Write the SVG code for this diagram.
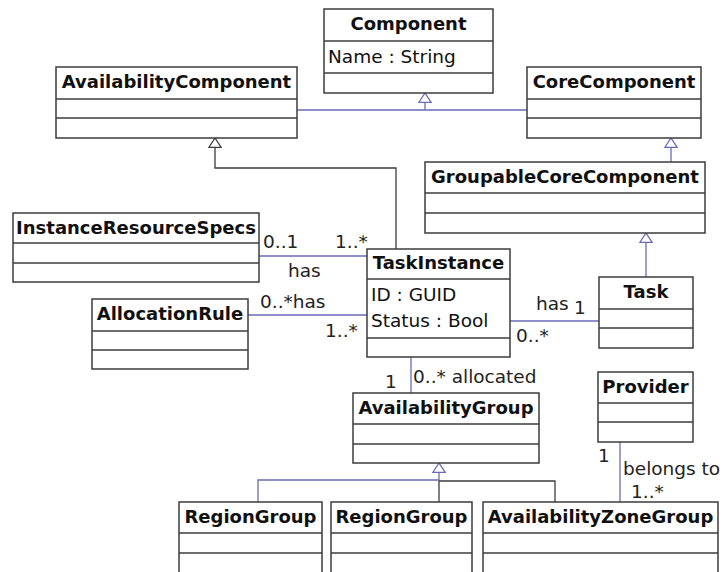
<svg xmlns="http://www.w3.org/2000/svg" width="723" height="572" viewBox="0 0 723 572">
  <style>
    .box { fill: #ffffff; stroke: #3c3c3c; stroke-width: 1.5; }
    .sep { stroke: #3c3c3c; stroke-width: 1.5; }
    .title { font-family: "DejaVu Sans", "Liberation Sans", sans-serif; font-size: 18px; font-weight: bold; fill: #111111; text-anchor: middle; }
    .attr { font-family: "DejaVu Sans", "Liberation Sans", sans-serif; font-size: 18.5px; fill: #111111; }
    .lbl { font-family: "DejaVu Sans", "Liberation Sans", sans-serif; font-size: 18.5px; fill: #222222; }
    .blue { fill: none; stroke: #6a6ab8; stroke-width: 1.3; }
    .dark { fill: none; stroke: #3c3c3c; stroke-width: 1.3; }
  </style>
  <defs>
    <marker id="genBlue" viewBox="0 -7 11 14" refX="10" refY="0" markerWidth="11" markerHeight="14" markerUnits="userSpaceOnUse" orient="auto">
      <path d="M0.5,-6.2 L10,0 L0.5,6.2 Z" fill="#ffffff" stroke="#6a6ab8" stroke-width="1.3"/>
    </marker>
    <marker id="genDark" viewBox="0 -7 11 14" refX="10" refY="0" markerWidth="11" markerHeight="14" markerUnits="userSpaceOnUse" orient="auto">
      <path d="M0.5,-6.2 L10,0 L0.5,6.2 Z" fill="#ffffff" stroke="#3c3c3c" stroke-width="1.3"/>
    </marker>
  </defs>

  <!-- connectors -->
  <g id="connectors">
    <path class="blue" d="M297,110 H527"/>
    <path class="blue" d="M425,110 V93" marker-end="url(#genBlue)"/>
    <path class="blue" d="M671,162 V138" marker-end="url(#genBlue)"/>
    <path class="blue" d="M646,277 V233" marker-end="url(#genBlue)"/>
    <path class="dark" d="M396,249 V168 H215 V138" marker-end="url(#genDark)"/>
    <path class="blue" d="M259,256 H367"/>
    <path class="blue" d="M248,315 H367"/>
    <path class="blue" d="M510,321 H599"/>
    <path class="blue" d="M411,357 V393"/>
    <path class="dark" d="M439,502 V480"/>
    <path class="dark" d="M555,502 V481 H439"/>
    <path class="blue" d="M258,502 V480 H439 V463" marker-end="url(#genBlue)"/>
    <path class="blue" d="M620,442 V502"/>

    <text class="lbl" x="263" y="248">0..1</text>
    <text class="lbl" x="288" y="277">has</text>
    <text class="lbl" x="335" y="248">1..*</text>
    <text class="lbl" x="260" y="308">0..*has</text>
    <text class="lbl" x="325" y="337">1..*</text>
    <text class="lbl" x="536" y="310">has</text>
    <text class="lbl" x="574" y="314">1</text>
    <text class="lbl" x="516" y="342">0..*</text>
    <text class="lbl" x="385" y="388">1</text>
    <text class="lbl" x="413" y="383">0..* allocated</text>
    <text class="lbl" x="598" y="462">1</text>
    <text class="lbl" x="623" y="475">belongs to</text>
    <text class="lbl" x="631" y="498">1..*</text>
  </g>

  <g id="Component">
    <rect class="box" x="324" y="9" width="169" height="84"/>
    <line class="sep" x1="324" y1="41" x2="493" y2="41"/>
    <line class="sep" x1="324" y1="73" x2="493" y2="73"/>
    <text class="title" x="408.5" y="30">Component</text>
    <text class="attr" x="328" y="63">Name : String</text>
  </g>

  <g id="AvailabilityComponent">
    <rect class="box" x="56" y="67" width="241" height="71"/>
    <line class="sep" x1="56" y1="99" x2="297" y2="99"/>
    <line class="sep" x1="56" y1="118" x2="297" y2="118"/>
    <text class="title" x="176.5" y="88">AvailabilityComponent</text>
  </g>

  <g id="CoreComponent">
    <rect class="box" x="527" y="67" width="174" height="71"/>
    <line class="sep" x1="527" y1="99" x2="701" y2="99"/>
    <line class="sep" x1="527" y1="118" x2="701" y2="118"/>
    <text class="title" x="614" y="88">CoreComponent</text>
  </g>

  <g id="GroupableCoreComponent">
    <rect class="box" x="425" y="162" width="280" height="71"/>
    <line class="sep" x1="425" y1="193" x2="705" y2="193"/>
    <line class="sep" x1="425" y1="213" x2="705" y2="213"/>
    <text class="title" x="565" y="183">GroupableCoreComponent</text>
  </g>

  <g id="InstanceResourceSpecs">
    <rect class="box" x="13" y="213" width="246" height="69"/>
    <line class="sep" x1="13" y1="243" x2="259" y2="243"/>
    <line class="sep" x1="13" y1="263" x2="259" y2="263"/>
    <text class="title" x="136" y="234">InstanceResourceSpecs</text>
  </g>

  <g id="AllocationRule">
    <rect class="box" x="92" y="299" width="156" height="70"/>
    <line class="sep" x1="92" y1="331" x2="248" y2="331"/>
    <line class="sep" x1="92" y1="350" x2="248" y2="350"/>
    <text class="title" x="170" y="320">AllocationRule</text>
  </g>

  <g id="TaskInstance">
    <rect class="box" x="367" y="249" width="143" height="108"/>
    <line class="sep" x1="367" y1="279" x2="510" y2="279"/>
    <line class="sep" x1="367" y1="338" x2="510" y2="338"/>
    <text class="title" x="438.5" y="269">TaskInstance</text>
    <text class="attr" x="371" y="301">ID : GUID</text>
    <text class="attr" x="371" y="327">Status : Bool</text>
  </g>

  <g id="Task">
    <rect class="box" x="599" y="277" width="94" height="71"/>
    <line class="sep" x1="599" y1="309" x2="693" y2="309"/>
    <line class="sep" x1="599" y1="328" x2="693" y2="328"/>
    <text class="title" x="646" y="298">Task</text>
  </g>

  <g id="AvailabilityGroup">
    <rect class="box" x="353" y="393" width="186" height="70"/>
    <line class="sep" x1="353" y1="424" x2="539" y2="424"/>
    <line class="sep" x1="353" y1="444" x2="539" y2="444"/>
    <text class="title" x="446" y="414">AvailabilityGroup</text>
  </g>

  <g id="Provider">
    <rect class="box" x="598" y="372" width="95" height="70"/>
    <line class="sep" x1="598" y1="403" x2="693" y2="403"/>
    <line class="sep" x1="598" y1="422" x2="693" y2="422"/>
    <text class="title" x="645.5" y="393">Provider</text>
  </g>

  <g id="RegionGroup1">
    <rect class="box" x="179" y="502" width="143" height="71"/>
    <line class="sep" x1="179" y1="533" x2="322" y2="533"/>
    <line class="sep" x1="179" y1="553" x2="322" y2="553"/>
    <text class="title" x="250.5" y="523">RegionGroup</text>
  </g>

  <g id="RegionGroup2">
    <rect class="box" x="331" y="502" width="141" height="71"/>
    <line class="sep" x1="331" y1="533" x2="472" y2="533"/>
    <line class="sep" x1="331" y1="553" x2="472" y2="553"/>
    <text class="title" x="401.5" y="523">RegionGroup</text>
  </g>

  <g id="AvailabilityZoneGroup">
    <rect class="box" x="483" y="502" width="235" height="71"/>
    <line class="sep" x1="483" y1="533" x2="718" y2="533"/>
    <line class="sep" x1="483" y1="553" x2="718" y2="553"/>
    <text class="title" x="600.5" y="523">AvailabilityZoneGroup</text>
  </g>
</svg>
